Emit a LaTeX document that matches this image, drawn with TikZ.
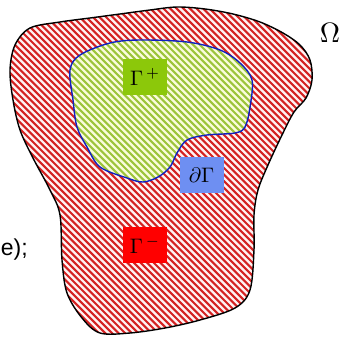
\documentclass[tikz,border=0pt]{standalone}
\usepackage{graphicx}
\usepackage{fontspec}
\newfontfamily\labelsans{Liberation Sans}
\definecolor{hatchred}{HTML}{D42222}
\definecolor{pinkbg}{HTML}{FFF2F2}
\definecolor{hatchgreen}{HTML}{9CC43A}
\definecolor{greenbg}{HTML}{FAFCDC}
\definecolor{boxgreen}{HTML}{8CC80A}
\definecolor{boxblue}{HTML}{6E8FF2}
\definecolor{boxred}{HTML}{FF0000}
\definecolor{edgeblue}{HTML}{1020C0}
\tikzset{
  labelbox/.style={minimum width=44pt,minimum height=36pt,inner sep=0pt},
  redhatch/.style={hatchred,line width=2.1pt},
  greenhatch/.style={hatchgreen,line width=2.1pt},
}
\begin{document}
\begin{tikzpicture}[x=1pt,y=-1pt]
\useasboundingbox (0,0) rectangle (344,337);
% outer region
\begin{scope}
\clip plot[smooth cycle,tension=0.55] coordinates {(30,28) (60,22) (90,18) (120,14) (150,10) (177,7) (205,9) (233,14) (260,22) (283,33) (300,45) (310,60) (312,80) (306,98) (294,112) (282,135) (268,165) (258,190) (254,215) (254,250) (250,290) (235,308) (200,320) (165,328) (130,333) (100,333) (82,318) (67,293) (62,260) (60,215) (50,190) (33,158) (20,130) (13,100) (10,70) (15,45)};
\fill[pinkbg] (0,0) rectangle (344,337);
\foreach \i in {-340,-333.4,...,344} \draw[redhatch] (\i,0) -- ++(337,337);
\end{scope}
\draw[line width=1.4pt] plot[smooth cycle,tension=0.55] coordinates {(30,28) (60,22) (90,18) (120,14) (150,10) (177,7) (205,9) (233,14) (260,22) (283,33) (300,45) (310,60) (312,80) (306,98) (294,112) (282,135) (268,165) (258,190) (254,215) (254,250) (250,290) (235,308) (200,320) (165,328) (130,333) (100,333) (82,318) (67,293) (62,260) (60,215) (50,190) (33,158) (20,130) (13,100) (10,70) (15,45)};
% inner region
\begin{scope}
\clip plot[smooth cycle,tension=0.55] coordinates {(70,70) (80,55) (110,43) (140,40) (187,42) (220,50) (240,63) (252,80) (250,107) (245,127) (235,133) (207,135) (187,140) (177,153) (170,167) (158,177) (143,182) (127,178) (100,167) (87,147) (77,127) (73,100)};
\fill[greenbg] (0,0) rectangle (344,337);
\foreach \i in {-340,-333.4,...,344} \draw[greenhatch] (\i,0) -- ++(337,337);
\end{scope}
\draw[edgeblue,line width=1.4pt] plot[smooth cycle,tension=0.55] coordinates {(70,70) (80,55) (110,43) (140,40) (187,42) (220,50) (240,63) (252,80) (250,107) (245,127) (235,133) (207,135) (187,140) (177,153) (170,167) (158,177) (143,182) (127,178) (100,167) (87,147) (77,127) (73,100)};
% labels
\node[labelbox,fill=boxgreen] (gp) at (145,77) {\scalebox{2.1}{$\Gamma^{\,+}$}};
\node[labelbox,fill=boxblue] (dg) at (201.5,175) {\scalebox{2.1}{$\partial\Gamma$}};
\node[labelbox,fill=boxred] (gm) at (145,245) {\scalebox{2.1}{$\Gamma^{\,-}$}};
\node[inner sep=0pt] (omega) at (330,33) {\scalebox{2.8}{$\Omega$}};
\node[inner sep=0pt,anchor=base east,font=\labelsans\fontsize{23}{27}\selectfont] (etext) at (28,255) {e);};
\end{tikzpicture}
\end{document}
